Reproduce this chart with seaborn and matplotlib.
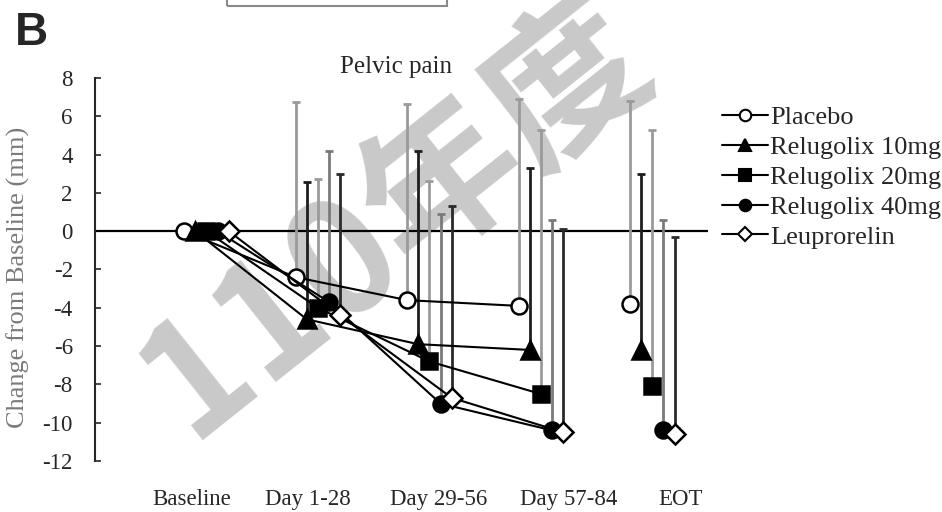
import numpy as np
import pandas as pd
import matplotlib
matplotlib.use("Agg")
import matplotlib.pyplot as plt
from matplotlib.patches import Rectangle
from matplotlib.lines import Line2D
import seaborn as sns

# Visits and treatment groups
visits = ["Baseline", "Day 1-28", "Day 29-56", "Day 57-84", "EOT"]
groups = ["Placebo", "Relugolix 10mg", "Relugolix 20mg", "Relugolix 40mg", "Leuprorelin"]

# Mean change from baseline (mm) and SD per visit
placebo_mean = [0.0, -2.4, -3.6, -3.9, -3.8]
placebo_sd = [0.0, 9.15, 10.25, 10.8, 10.6]
rel10_mean = [0.0, -4.6, -5.9, -6.2, -6.2]
rel10_sd = [0.0, 7.15, 10.1, 9.5, 9.2]
rel20_mean = [0.0, -4.0, -6.8, -8.5, -8.1]
rel20_sd = [0.0, 6.7, 9.4, 13.8, 13.4]
rel40_mean = [0.0, -3.7, -9.0, -10.4, -10.4]
rel40_sd = [0.0, 7.9, 9.9, 11.0, 11.0]
leu_mean = [0.0, -4.4, -8.7, -10.5, -10.6]
leu_sd = [0.0, 7.4, 10.0, 10.6, 10.3]

means = [placebo_mean, rel10_mean, rel20_mean, rel40_mean, leu_mean]
sds = [placebo_sd, rel10_sd, rel20_sd, rel40_sd, leu_sd]

rows = []
for g, m, s in zip(groups, means, sds):
    for k, v in enumerate(visits):
        rows.append({"group": g, "visit": k, "mean": m[k], "sd": s[k]})
df = pd.DataFrame(rows)

sns.set_style("ticks")
plt.rcParams["font.family"] = ["Liberation Serif", "Noto Sans CJK TC", "DejaVu Sans"]
plt.rcParams["axes.unicode_minus"] = False

markers = {"Placebo": "o", "Relugolix 10mg": "^", "Relugolix 20mg": "s",
           "Relugolix 40mg": "o", "Leuprorelin": "D"}
faces = {"Placebo": "white", "Relugolix 10mg": "black", "Relugolix 20mg": "black",
         "Relugolix 40mg": "black", "Leuprorelin": "white"}
msizes = {"Placebo": 11.5, "Relugolix 10mg": 12.5, "Relugolix 20mg": 11.5,
          "Relugolix 40mg": 11.5, "Leuprorelin": 10.5}
errc = {"Placebo": "#9a9a9a", "Relugolix 10mg": "#1e1e1e", "Relugolix 20mg": "#9a9a9a",
        "Relugolix 40mg": "#7a7a7a", "Leuprorelin": "#2a2a2a"}

fig = plt.figure(figsize=(9.42, 5.12), dpi=100)
fig.patch.set_facecolor("white")
ax = fig.add_axes([95 / 942, 1 - 461 / 512, 613 / 942, 383 / 512])
ax.patch.set_visible(False)

# Faint watermark behind the chart
fig.text(395 / 942, 1 - 218 / 512, "110年度", rotation=38.5, rotation_mode="anchor",
         ha="center", va="center", fontsize=114, family=["Noto Sans CJK TC"],
         weight="bold", color="#c9c9c9", zorder=-1)

ax.axhline(0, color="black", lw=1.6, zorder=1)

for i, g in enumerate(groups):
    d = df[df["group"] == g].copy()
    d["x"] = d["visit"] + (i - 2) * 0.1
    post = d[d["visit"] > 0]
    ax.errorbar(post["x"], post["mean"], yerr=[np.zeros(len(post)), post["sd"]],
                fmt="none", ecolor=errc[g], elinewidth=2.0, capsize=2.8,
                capthick=2.0, zorder=1.5)
    conn = d[d["visit"] < 4]
    sns.lineplot(data=conn, x="x", y="mean", ax=ax, color="black", lw=1.5,
                 marker=markers[g], markersize=msizes[g], markerfacecolor=faces[g],
                 markeredgecolor="black", markeredgewidth=1.8, zorder=3 + i,
                 sort=False, errorbar=None)
    eot = d[d["visit"] == 4]
    sns.lineplot(data=eot, x="x", y="mean", ax=ax, color="black", lw=0,
                 marker=markers[g], markersize=msizes[g], markerfacecolor=faces[g],
                 markeredgecolor="black", markeredgewidth=1.8, zorder=3 + i,
                 errorbar=None)

ax.set_xlim(-1, 4.5)
ax.set_ylim(-12, 8)
ax.set_yticks(range(-12, 9, 2))
label_pos = [-0.13, 0.91, 2.08, 3.25, 4.25]
ax.set_xticks(label_pos)
ax.set_xticklabels(visits)
ax.tick_params(axis="x", length=0, pad=20.5, labelsize=16.5)
ax.tick_params(axis="y", direction="in", length=4, width=1.2, pad=16, labelsize=16.5)
ax.set_xlabel("")
ax.set_ylabel("")
for side in ["top", "right", "bottom"]:
    ax.spines[side].set_visible(False)
ax.spines["left"].set_linewidth(1.5)

fig.text(18 / 942, 1 - 277 / 512, "Change from Baseline (mm)", rotation=90,
         ha="center", va="center", fontsize=19, color="#7a7a7a")
fig.text(396 / 942, 1 - 73 / 512, "Pelvic pain", ha="center", va="baseline",
         fontsize=18)
fig.text(15 / 942, 1 - 45 / 512, "B", ha="left", va="baseline", fontsize=33,
         family=["Liberation Sans"], weight="bold")

fig.add_artist(Rectangle((227 / 942, 1 - 6 / 512), 220 / 942, 0.05,
                         transform=fig.transFigure, fill=False,
                         edgecolor="#8a8a8a", lw=1.5, clip_on=False))

handles = [Line2D([], [], color="black", lw=1.5, marker=markers[g],
                  markersize=msizes[g] * 0.72, markerfacecolor=faces[g],
                  markeredgecolor="black", markeredgewidth=1.5) for g in groups]
fig.legend(handles, groups, loc="upper left",
           bbox_to_anchor=(722 / 942, 1 - 106 / 512), frameon=False, fontsize=19,
           handlelength=1.75, handletextpad=0.08, labelspacing=0.24,
           borderaxespad=0, borderpad=0)

fig.savefig("out.png", dpi=100, facecolor="white")
